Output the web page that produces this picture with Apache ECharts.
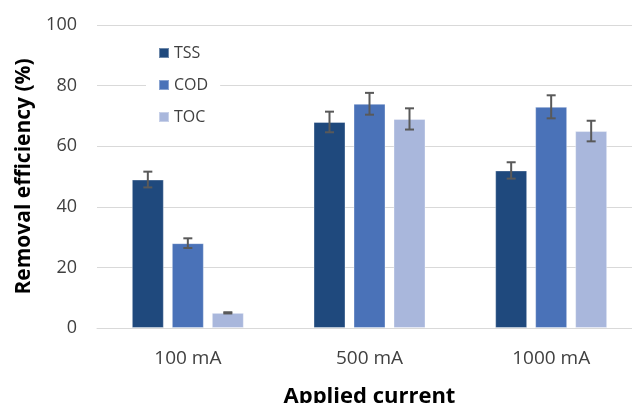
<!DOCTYPE html>
<html>
<head>
<meta charset="utf-8">
<script src="https://cdn.jsdelivr.net/npm/echarts@6/dist/echarts.min.js"></script>
<style>html,body{margin:0;padding:0;background:#fff;}#c{width:632px;height:403px;}</style>
</head>
<body>
<div id="c"></div>
<script>
var categories = ['100 mA', '500 mA', '1000 mA'];
var seriesNames = ['TSS', 'COD', 'TOC'];
var tss = [49, 68, 52];
var cod = [28, 74, 73];
var toc = [5, 69, 65];
var tssErr = [2.6, 3.4, 2.7];
var codErr = [1.6, 3.6, 3.8];
var tocErr = [0.2, 3.5, 3.4];
var yTicks = [0, 20, 40, 60, 80, 100];

var colors = ['#1f497d', '#4a72b8', '#a9b7dc'];
var values = [tss, cod, toc];
var errs = [tssErr, codErr, tocErr];
var FONT = '"Open Sans", sans-serif';

var chart = echarts.init(document.getElementById('c'));
var series = [];
seriesNames.forEach(function (name, i) {
  series.push({
    name: name,
    type: 'bar',
    data: values[i],
    barWidth: 32,
    barGap: '25%',
    itemStyle: { color: colors[i], borderColor: 'rgba(255,255,255,0.35)', borderWidth: 1 },
    z: 2
  });
});
seriesNames.forEach(function (name, i) {
  var d = values[i].map(function (v, k) { return [k, v, errs[i][k]]; });
  series.push({
    type: 'custom',
    name: name + ' err',
    data: d,
    z: 5,
    encode: { x: 0, y: [1] },
    renderItem: function (params, api) {
      var k = api.value(0), v = api.value(1), e = api.value(2);
      var p0 = api.coord([k, v]);
      var offset = (i - 1) * 40;
      var x = p0[0] + offset;
      var yTop = api.coord([k, v + e])[1];
      var yBot = api.coord([k, v - e])[1];
      var st = { stroke: '#595959', lineWidth: 2 };
      return {
        type: 'group',
        children: [
          { type: 'line', shape: { x1: x, y1: yTop, x2: x, y2: yBot }, style: st },
          { type: 'line', shape: { x1: x - 4.5, y1: yTop, x2: x + 4.5, y2: yTop }, style: st },
          { type: 'line', shape: { x1: x - 4.5, y1: yBot, x2: x + 4.5, y2: yBot }, style: st }
        ]
      };
    }
  });
});

chart.setOption({
  animation: false,
  backgroundColor: '#fff',
  color: colors,
  grid: { left: 97, top: 25, width: 545, height: 303, containLabel: false, outerBoundsMode: 'none' },
  legend: {
    data: seriesNames,
    orient: 'vertical',
    left: 146,
    top: 38,
    itemWidth: 10,
    itemHeight: 10,
    itemGap: 14,
    icon: 'rect',
    backgroundColor: '#fff',
    padding: [6, 12, 6, 12],
    textStyle: { fontFamily: FONT, fontSize: 16, color: '#404040', lineHeight: 18 }
  },
  xAxis: {
    type: 'category',
    data: categories,
    axisLine: { show: true, lineStyle: { color: '#d9d9d9', width: 1 } },
    axisTick: { show: false },
    axisLabel: { fontFamily: FONT, fontSize: 19, color: '#404040', margin: 21 },
    name: 'Applied current',
    nameLocation: 'middle',
    nameGap: 58,
    nameTextStyle: { fontFamily: FONT, fontSize: 22, fontWeight: 'bold', color: '#000' }
  },
  yAxis: {
    type: 'value',
    min: 0,
    max: 100,
    interval: 20,
    axisLine: { show: false },
    axisTick: { show: false },
    splitLine: { lineStyle: { color: '#d9d9d9', width: 1 } },
    axisLabel: { fontFamily: FONT, fontSize: 18, color: '#404040', margin: 20 },
    name: 'Removal efficiency (%)',
    nameLocation: 'middle',
    nameGap: 62,
    nameTextStyle: { fontFamily: FONT, fontSize: 21, fontWeight: 'bold', color: '#000' }
  },
  series: series
});
</script>
</body>
</html>
